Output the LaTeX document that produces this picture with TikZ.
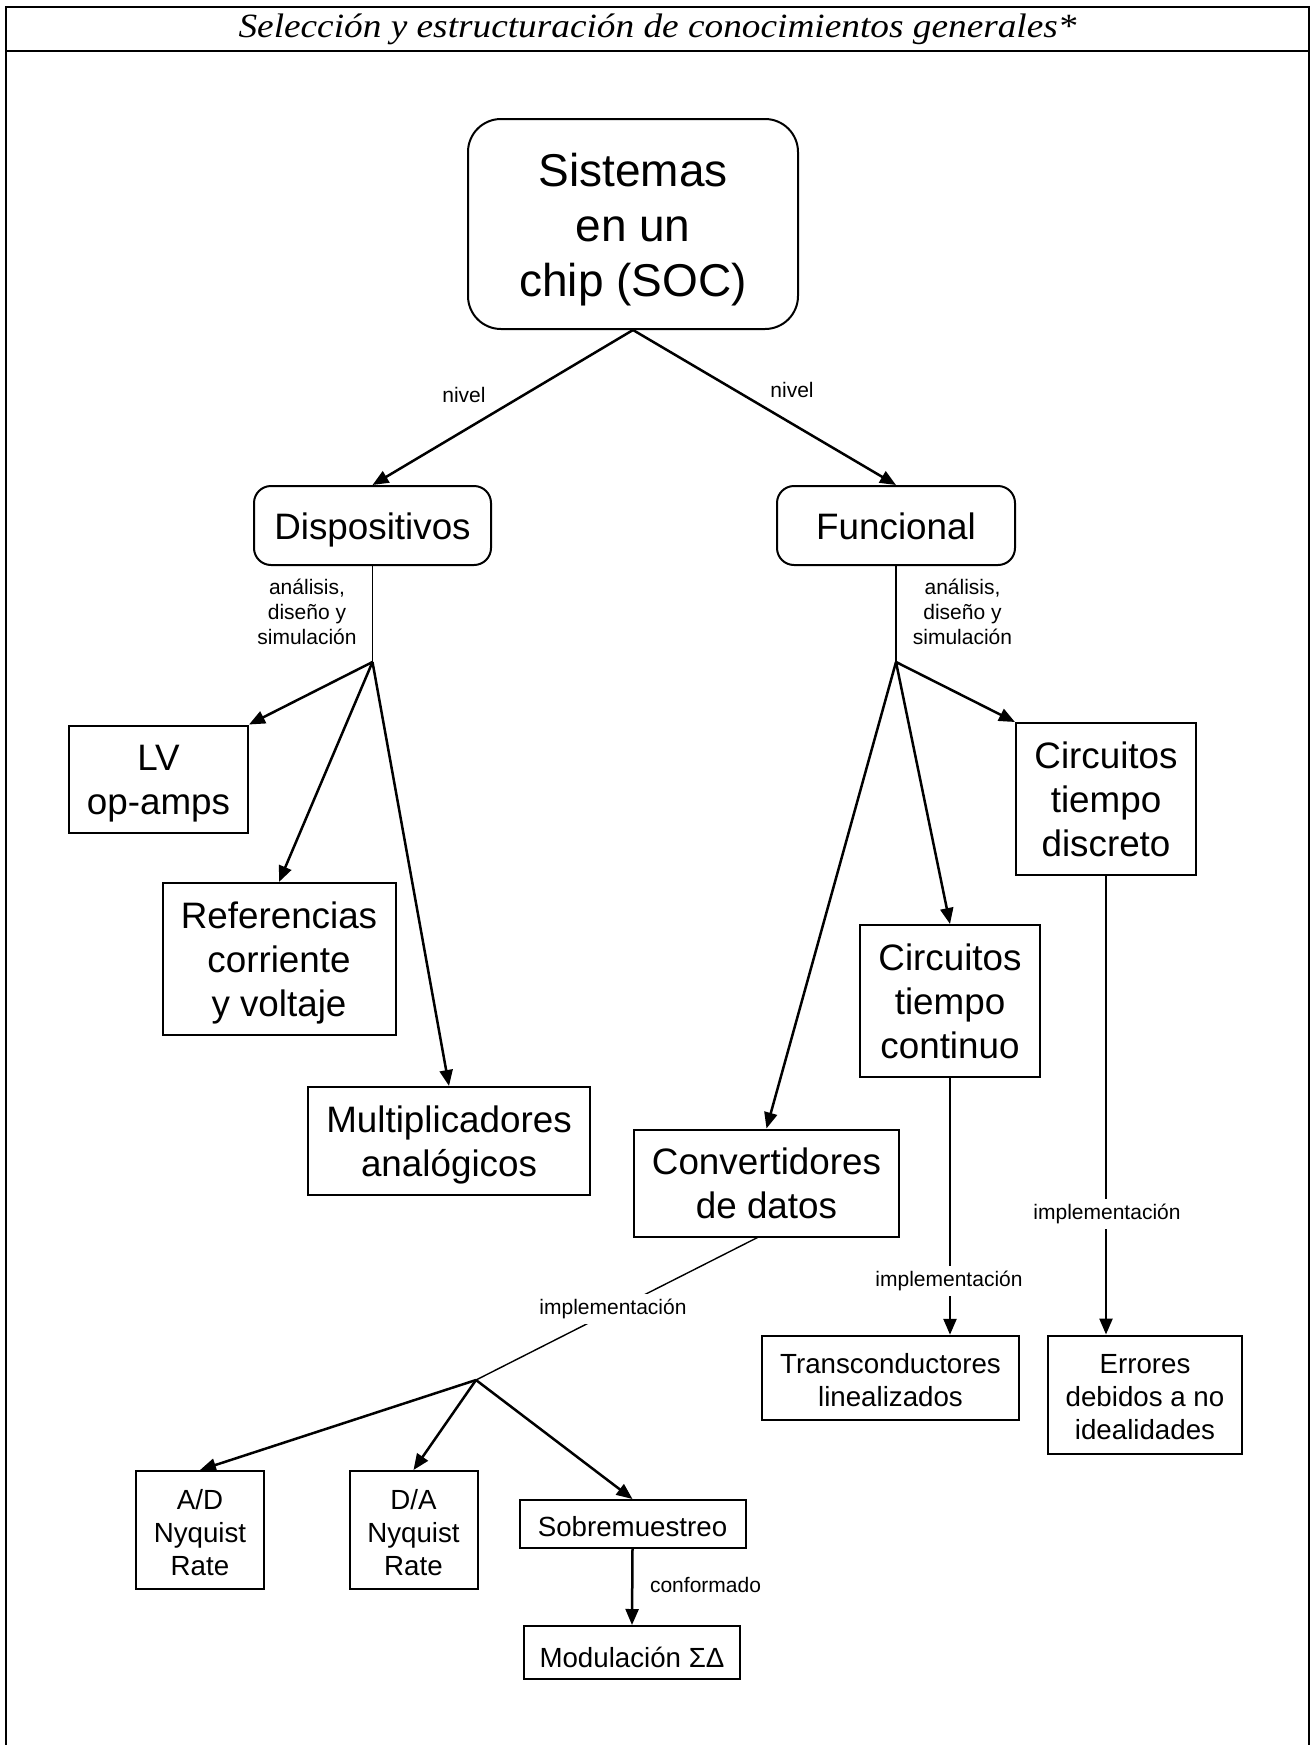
\documentclass[tikz,border=0pt]{standalone}
\usepackage{fontspec}
\setmainfont{Liberation Sans}
\newfontfamily\titlefont{Liberation Serif}
\usetikzlibrary{arrows.meta}
\newcommand\tup{\rule{0pt}{0.97em}}
\newcommand\tdn{\rule[-0.21em]{0pt}{0pt}}
\newcommand\tus{\rule{0pt}{0.9em}}
\begin{document}
\begin{tikzpicture}[x=1pt,y=-1pt,
  box/.style={draw, line width=2pt, inner sep=0pt, align=center, anchor=center},
  rbox/.style={box, rounded corners=17pt},
  huge/.style={font=\fontsize{46}{55}\selectfont},
  big/.style={font=\fontsize{36.8}{44}\selectfont},
  small/.style={font=\fontsize{27.7}{33}\selectfont},
  lbl/.style={font=\fontsize{21}{25}\selectfont, align=center, inner sep=1pt},
  gaplbl/.style={lbl, fill=white, inner sep=5pt},
  arr/.style={line width=2.5pt, -{Triangle[length=16pt,width=13pt]}},
  thinline/.style={line width=1.4pt},
  frame/.style={line width=2.2pt},
]
\useasboundingbox (0,0) rectangle (1311,1745);
% frame
\draw[frame] (6,1745) -- (6,7) -- (1309,7) -- (1309,1745);
\draw[frame] (6,51) -- (1309,51);
\node[font=\titlefont\itshape\fontsize{34}{40}\selectfont, xscale=1.097, transform shape, anchor=base, inner sep=0pt] (title) at (657.5,38) {Selección y estructuración de conocimientos generales*};

% nodes
\node[box, rounded corners=33pt, huge, minimum width=330pt, minimum height=210pt] (soc) at (633,224) {\tup Sistemas\\en un\\chip (SOC)\tdn};
\node[rbox, big, minimum width=237pt, minimum height=79pt] (disp) at (372.5,525.5) {\tup Dispositivos\tdn};
\node[rbox, big, minimum width=238pt, minimum height=79pt] (func) at (896,525.5) {\tup Funcional\tdn};

\node[box, big, minimum width=179pt, minimum height=107pt] (lv) at (158.5,779) {\tup LV\\op-amps\tdn};
\node[box, big, minimum width=233pt, minimum height=152pt] (ref) at (279,959) {\tup Referencias\\corriente\\y voltaje\tdn};
\node[box, big, minimum width=282pt, minimum height=108pt] (mult) at (449,1141) {\tup Multiplicadores\\analógicos\tdn};

\node[box, big, minimum width=180pt, minimum height=152pt] (disc) at (1106,799) {\tup Circuitos\\tiempo\\discreto\tdn};
\node[box, big, minimum width=180pt, minimum height=152pt] (cont) at (950,1001) {\tup Circuitos\\tiempo\\continuo\tdn};
\node[box, big, minimum width=265pt, minimum height=107pt] (conv) at (766.5,1183) {\tup Convertidores\\de datos\tdn};

\node[box, small, minimum width=257pt, minimum height=84.5pt] (trans) at (890.5,1378) {\tus Transconductores\\linealizados};
\node[box, small, minimum width=194pt, minimum height=118pt] (err) at (1145,1394.5) {\tus Errores\\debidos a no\\idealidades};

\node[box, small, minimum width=128pt, minimum height=118pt] (ad) at (200,1530) {\tus A/D\\Nyquist\\Rate};
\node[box, small, minimum width=128pt, minimum height=118pt] (da) at (413.5,1530) {\tus D/A\\Nyquist\\Rate};
\node[box, small, minimum width=226pt, minimum height=48pt] (sob) at (632.5,1524) {\tus Sobremuestreo};
\node[box, small, minimum width=216pt, minimum height=53pt] (mod) at (632,1652.5) {\rule{0pt}{1.1em}Modulación ΣΔ};

% branch points
\coordinate (bd) at (372.5,662);
\coordinate (bf) at (896,662);
\coordinate (bc) at (476,1380);

% connectors
\draw[arr] (soc.south) -- (disp.north);
\draw[arr] (soc.south) -- (func.north);
\node[lbl] (niv1) at (464,395) {nivel};
\node[lbl] (niv2) at (792,389.5) {nivel};

\draw[thinline] (disp.south) -- (bd);
\node[lbl] (ads1) at (307,611.5) {análisis,\\diseño y\\simulación};
\draw[arr] (bd) -- (lv.north east);
\draw[arr] (bd) -- (ref.north);
\draw[arr] (bd) -- (mult.north);

\draw[thinline] (func.south) -- (bf);
\node[lbl] (ads2) at (962.5,611.5) {análisis,\\diseño y\\simulación};
\draw[arr] (bf) -- (disc.north west);
\draw[arr] (bf) -- (cont.north);
\draw[arr] (bf) -- (conv.north);

\draw[arr] (cont.south) -- (cont.south |- trans.north);
\node[gaplbl] (imp1) at (949,1281) {implementación};
\draw[arr] (disc.south) -- (disc.south |- err.north);
\node[gaplbl] (imp2) at (1107,1214) {implementación};

\draw[thinline] ([xshift=-9pt]conv.south) -- (bc);
\node[gaplbl] (imp3) at (613,1309) {implementación};
\draw[arr] (bc) -- (ad.north);
\draw[arr] (bc) -- (da.north);
\draw[arr] (bc) -- (sob.north);

\draw[arr] (sob.south) -- (mod.north);
\node[lbl] (conf) at (705.5,1585) {conformado};
\end{tikzpicture}
\end{document}
